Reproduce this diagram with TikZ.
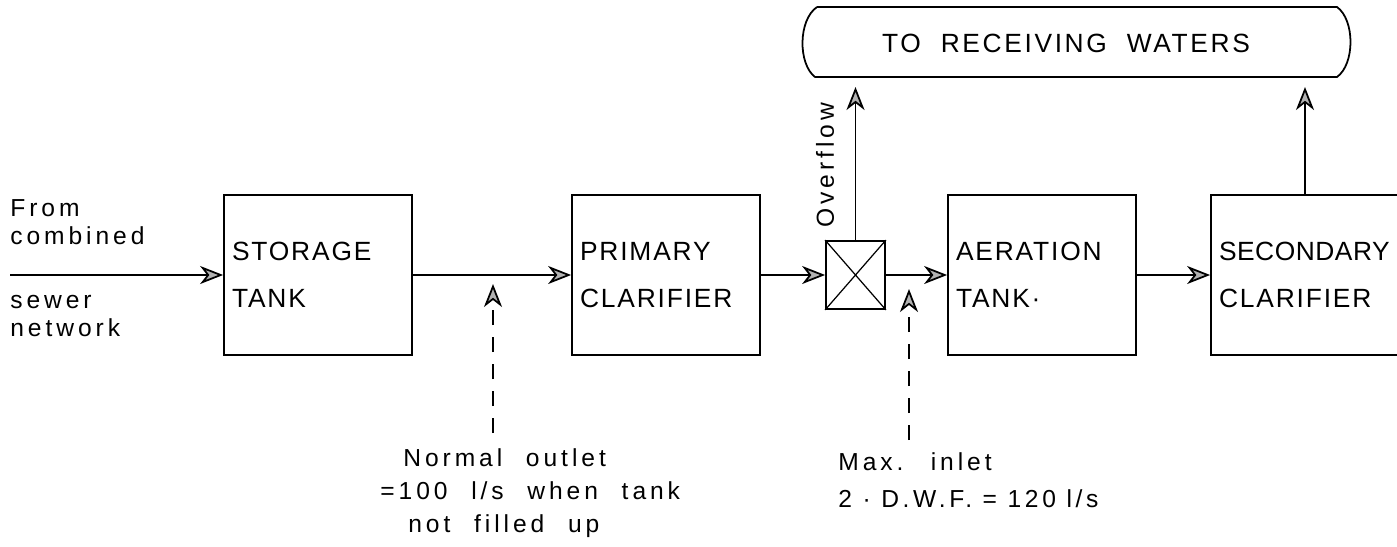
\documentclass[tikz,border=0pt]{standalone}
\usepackage{fontspec}
\setmainfont{Liberation Sans}
\newfontfamily\boxfont[LetterSpace=7]{Liberation Sans}
\newfontfamily\headfont[LetterSpace=10, WordSpace=2]{Liberation Sans}
\newfontfamily\lblfont[LetterSpace=16, WordSpace=2.2]{Liberation Sans}
\newfontfamily\tightfont[LetterSpace=15]{Liberation Sans}
\usetikzlibrary{positioning,arrows.meta,calc}
\tikzset{
    unitbox/.style={draw, line width=1pt, minimum height=32mm, text width=34.4mm,
                    inner sep=1.6mm, align=left, font=\boxfont\fontsize{15}{26.7}\selectfont},
    weirbox/.style={draw, line width=1pt, minimum width=11.8mm, minimum height=13.6mm, inner sep=0pt},
    flow/.style={-{Stealth[length=4.6mm, width=3.6mm, inset=1.4mm, fill=black!30]}, line width=1pt},
    tap/.style={flow, dash pattern=on 3mm off 2.4mm},
    lbl/.style={font=\lblfont\fontsize{14}{16}\selectfont, inner sep=0pt, align=left}
}
\begin{document}
\begin{tikzpicture}[x=0.2mm, y=-0.2mm]
  \useasboundingbox (0,0) rectangle (1397,546);

  % treatment units
  \node[unitbox] (store) at (318,275) {STORAGE\\TANK};
  \node[unitbox] (prim) at (666,275) {PRIMARY\\CLARIFIER};
  \node[weirbox] (weir) at (855.5,275) {};
  \draw[line width=0.7pt] (weir.north west) -- (weir.south east) (weir.north east) -- (weir.south west);
  \node[unitbox] (aer) at (1042,275) {AERATION\\TANK·};
  \node[unitbox, xshift=-0.4mm] (sec) at (1307,275) {{\addfontfeature{LetterSpace=2}SECONDARY}\\CLARIFIER};

  % receiving waters
  \node[font=\headfont\fontsize{15}{18}\selectfont] (waters) at (1066,43) {TO RECEIVING WATERS};
  \draw[line width=1pt] (817,7) -- (1337,7) .. controls (1355,20) and (1355,64) .. (1337,77)
      -- (815,77) .. controls (798,64) and (798,20) .. (817,7);
  \coordinate (wbase) at (1076,87);

  % inlet labels
  \coordinate (src) at (10,275);
  \node[lbl, anchor=south west] (from) at (10,245) {From\\combined};
  \node[lbl, anchor=north west] (sewer) at (10,295) {sewer\\network};

  % main flow
  \draw[flow] (src) -- (store);
  \draw[flow] (store) -- (prim);
  \draw[flow] (prim) -- (weir);
  \draw[flow] (weir) -- (aer);
  \draw[flow] (aer) -- (sec);
  \draw[flow] (weir.north) -- (weir.north |- wbase);
  \draw[flow] (sec.north) -- (sec.north |- wbase);
  \node[lbl, rotate=90] (ovf) at (825,165) {Overflow};

  % flow limits
  \coordinate (outletin) at (493,284);
  \coordinate (outletfoot) at (493,433);
  \draw[tap] (outletfoot) -- (outletin);
  \node[lbl, anchor=north west, font=\lblfont\fontsize{14}{18.8}\selectfont] (outlet) at (380,448)
      {\hspace*{4.6mm}Normal outlet\\=100 l/s when tank\\\hspace*{5.6mm}not filled up};
  \coordinate (inletin) at (909,289);
  \coordinate (inletfoot) at (909,440);
  \draw[tap] (inletfoot) -- (inletin);
  \node[lbl, anchor=north west, font=\lblfont\fontsize{14}{21}\selectfont] (inlet) at (838,452)
      {Max. inlet\\{\tightfont 2 · D.W.F. = 120 l/s}};
\end{tikzpicture}
\end{document}
